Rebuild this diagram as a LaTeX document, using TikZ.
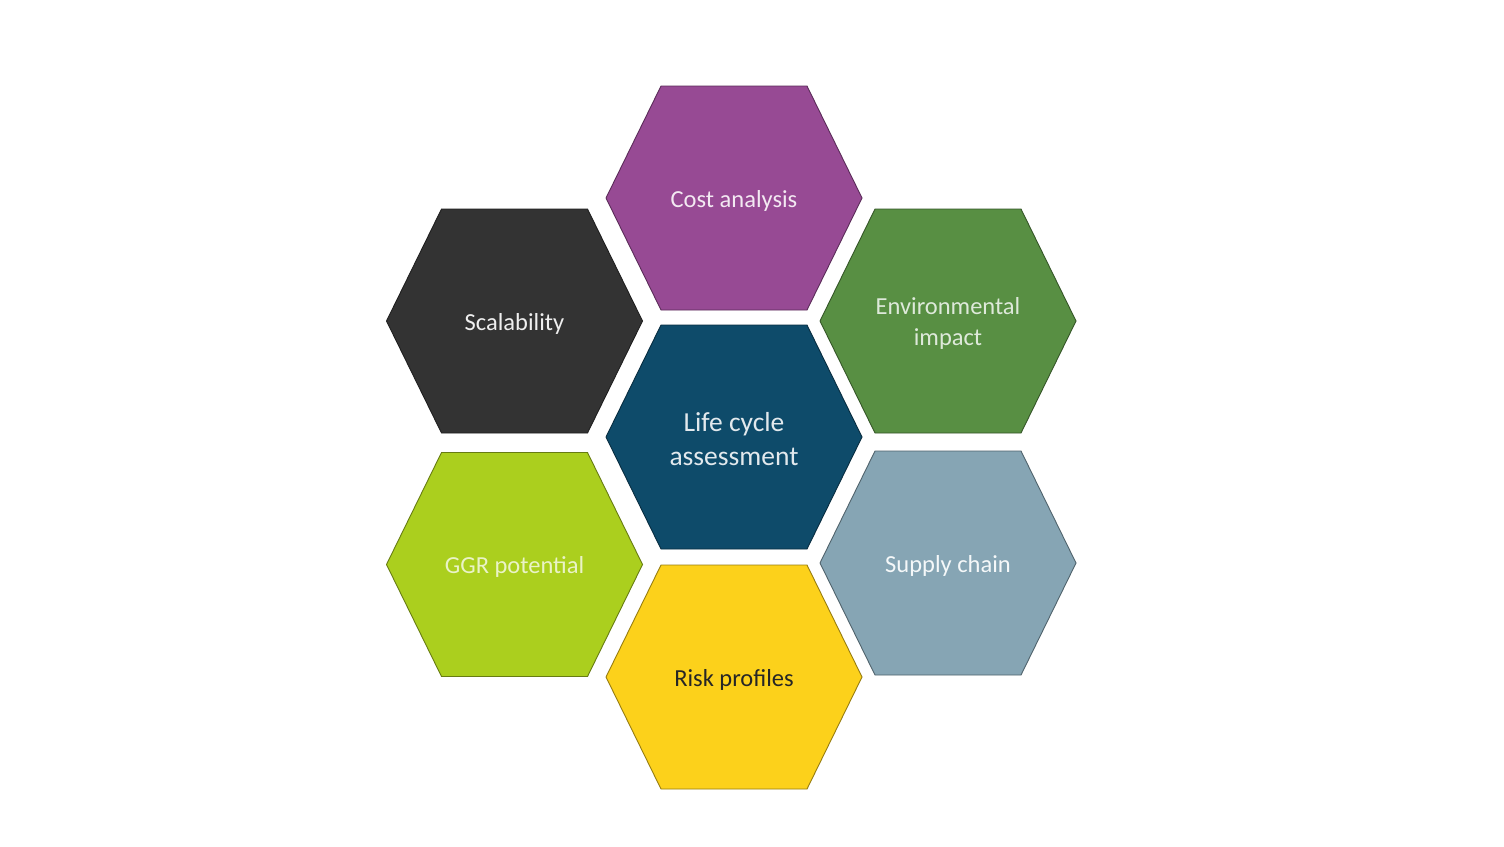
\documentclass[tikz,border=0pt]{standalone}
\usepackage{fontspec}
\setmainfont{Carlito}
\definecolor{costpurple}{HTML}{974A94}
\definecolor{scalgrey}{HTML}{333333}
\definecolor{envgreen}{HTML}{588F43}
\definecolor{lcablue}{HTML}{0E4B6A}
\definecolor{ggrlime}{HTML}{ABCF1E}
\definecolor{supplyslate}{HTML}{86A5B4}
\definecolor{riskyellow}{HTML}{FCD11B}
\begin{document}
\begin{tikzpicture}[x=1pt,y=-1pt]
  \tikzstyle{hex}=[line width=0.9pt]
  \tikzstyle{lbl}=[align=center, yshift=-2.5pt, font=\fontsize{24.5}{31}\selectfont]
  \useasboundingbox (0,0) rectangle (1504,846);
  \fill[white] (0,0) rectangle (1504,846);
  % honeycomb cells
  \foreach \x/\y/\c in {734/198/costpurple, 514.5/321/scalgrey,
      948/321/envgreen, 734/437/lcablue, 514.5/564.5/ggrlime,
      948/563/supplyslate, 734/677/riskyellow}
    \draw[hex, fill=\c, draw=\c!60!black]
      (\x-128,\y) -- ++(55,-112) -- ++(146,0) -- ++(55,112)
      -- ++(-55,112) -- ++(-146,0) -- cycle;
  % labels
  \node[lbl, text=white!88!costpurple] (cost) at (734,198) {Cost analysis};
  \node[lbl, text=white!92!scalgrey] (scal) at (514.5,321) {Scalability};
  \node[lbl, text=white!80!envgreen] (env) at (948,321) {Environmental\\impact};
  \node[lbl, text=white!88!lcablue, font=\fontsize{27.5}{34}\selectfont]
    (lca) at (734,437) {Life cycle\\assessment};
  \node[lbl, text=white!75!ggrlime] (ggr) at (514.5,564.5) {GGR potential};
  \node[lbl, text=white!92!supplyslate] (supply) at (948,563) {Supply chain};
  \node[lbl, text=black!85] (risk) at (734,677) {Risk profiles};
\end{tikzpicture}
\end{document}
